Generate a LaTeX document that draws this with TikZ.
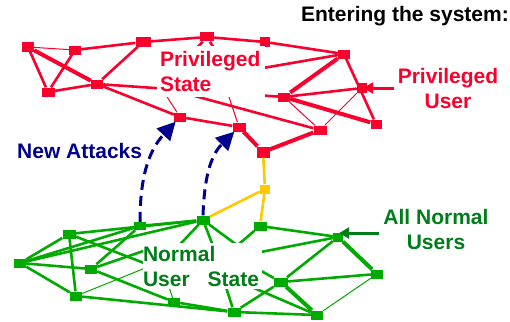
\documentclass[tikz,border=0pt]{standalone}
\usepackage{fontspec}
\setmainfont{Liberation Sans}
\usetikzlibrary{arrows.meta}
\definecolor{hostred}{RGB}{250,0,45}
\definecolor{hostgreen}{RGB}{0,170,0}
\definecolor{textgreen}{RGB}{0,125,25}
\definecolor{attackblue}{RGB}{0,0,140}
\definecolor{pathyellow}{RGB}{255,200,0}

\begin{document}
\begin{tikzpicture}
	[x=1pt,y=1pt,
	 host/.style={rectangle,inner sep=0pt,minimum width=12pt,minimum height=9pt},
	 redhost/.style={host,fill=hostred},
	 greenhost/.style={host,fill=hostgreen},
	 link/.style={line width=2.6pt},
	 thinlink/.style={line width=1pt},
	 thicklink/.style={line width=4pt},
	 attack/.style={attackblue,line width=3pt,dash pattern=on 10pt off 6pt,
	   -{Triangle[length=18pt,width=18pt]}},
	 bigtext/.style={font=\fontsize{21}{25}\selectfont\bfseries,inner sep=0pt}]
	\useasboundingbox (0,0) rectangle (510,-321);

	% privileged hosts
	\node[redhost] (r1) at (28,-47) {};
	\node[redhost] (r2) at (75,-50) {};
	\node[redhost,minimum width=15pt] (r3) at (143,-42) {};
	\node[redhost,minimum width=14pt] (r4) at (207,-37) {};
	\node[redhost,minimum width=10pt] (r5) at (265,-42) {};
	\node[redhost] (r6) at (344,-54) {};
	\node[redhost,minimum width=13pt] (r7) at (48,-92) {};
	\node[redhost] (r8) at (97,-84) {};
	\node[redhost] (r9) at (180,-117) {};
	\node[redhost,minimum width=13pt] (r10) at (239,-127) {};
	\node[redhost,minimum width=13pt,minimum height=11pt] (r11) at (263,-152) {};
	\node[redhost] (r12) at (284,-97) {};
	\node[redhost,minimum width=13pt] (r13) at (320,-130) {};
	\node[redhost,minimum width=10pt,minimum height=10pt] (r14) at (362,-88) {};
	\node[redhost,minimum width=11pt] (r15) at (376,-124) {};

	% hosts hidden behind the state label
	\coordinate (pa) at (185,-61);
	\coordinate (pb) at (222,-61);
	\coordinate (pc) at (245,-65);
	\coordinate (pd) at (162,-89);
	\coordinate (pe) at (225,-85);
	\coordinate (pf) at (240,-72);
	\coordinate (pg) at (180,-92);

	% normal hosts
	\node[greenhost] (g1) at (20,-263) {};
	\node[greenhost,minimum width=13pt] (g2) at (69,-234) {};
	\node[greenhost,minimum height=8pt] (g3) at (140,-226) {};
	\node[greenhost,minimum width=13pt] (g4) at (203,-220) {};
	\node[greenhost] (g5) at (91,-269) {};
	\node[greenhost] (g6) at (76,-296) {};
	\node[greenhost,minimum height=8pt] (g7) at (174,-302) {};
	\node[greenhost,minimum width=13pt] (g8) at (234,-312) {};
	\node[greenhost,minimum width=13pt] (g9) at (260,-226) {};
	\node[greenhost,minimum width=10pt] (g10) at (338,-237) {};
	\node[greenhost,minimum width=14pt] (g11) at (281,-282) {};
	\node[greenhost] (g12) at (377,-274) {};
	\node[greenhost] (g13) at (317,-315) {};
	\node[host,minimum width=10pt,fill=pathyellow] (y1) at (265,-189) {};

	\coordinate (qa) at (158,-246);
	\coordinate (qb) at (175,-275);
	\coordinate (qc) at (175,-256);
	\coordinate (qd) at (170,-255);
	\coordinate (qe) at (215,-251);
	\coordinate (qf) at (245,-251);
	\coordinate (qg) at (225,-256);
	\coordinate (qh) at (235,-257);
	\coordinate (qi) at (245,-262);
	\coordinate (qj) at (240,-282);
	\coordinate (qk) at (166,-278);
	\coordinate (ql) at (223,-278);

	% red links
	\foreach \a/\b in {r1/r7,r2/r3,r2/r7,r7/r8,r3/r8,r3/r4,r4/r5,r5/r6,r8/r9,
	                   r9/r10,r8/r12,r12/r14,r6/r15,r4/pa,r4/pb,r5/pc,pf/r6,pg/r13}
		\draw[link,hostred] (\a) -- (\b);
	\foreach \a/\b in {r1/r2,r12/r13,r13/r14,r9/pd,r10/pe}
		\draw[thinlink,hostred] (\a) -- (\b);
	\foreach \a/\b in {r1/r8,r10/r11,r11/r13,r6/r12,r12/r15}
		\draw[thicklink,hostred] (\a) -- (\b);

	% green links
	\foreach \a/\b in {g1/g2,g1/g3,g1/g4,g1/g5,g1/g6,g2/g6,g2/g4,g3/g4,g3/g5,
	                   g5/g7,g6/g8,g7/g8,g8/g13,g8/g11,g9/g10,g10/g11,g11/g12,
	                   g5/qa,g2/qb,g4/qd,g4/qe,g4/qf,g9/qg,g10/qh,g11/qi,g13/qj,g8/ql}
		\draw[link,hostgreen] (\a) -- (\b);
	\foreach \a/\b in {g12/g13,g6/qc,g7/qk}
		\draw[thinlink,hostgreen] (\a) -- (\b);
	\foreach \a/\b in {g10/g12,g11/g13}
		\draw[thicklink,hostgreen] (\a) -- (\b);

	% the way in
	\foreach \a/\b in {g4/y1,y1/g9,y1/r11}
		\draw[link,pathyellow] (\a) -- (\b);

	% attacks
	\draw[attack] (g3.north) to[out=90,in=227] (r9);
	\draw[attack] (g4.north) to[out=88,in=225] (r10);

	% labels
	\node[bigtext,anchor=base east] (title) at (509,-22) {Entering the system:};
	\node[bigtext,hostred,fill=white,minimum width=108pt,minimum height=51pt,
	      text width=102pt,align=left] (pstate) at (211,-71.5) {Privileged\\State};
	\node[bigtext,hostred,align=center] (puser) at (448,-88) {Privileged\\User};
	\node[bigtext,attackblue,anchor=base west] (attacks) at (17,-158) {New Attacks};
	\node[bigtext,textgreen,align=center] (nusers) at (436,-229.5) {All Normal\\Users};
	\node[bigtext,textgreen,fill=white,minimum width=119pt,minimum height=46pt,
	      text width=119pt,align=left] (nstate) at (202.5,-266)
	      {Normal\\User\hspace{18pt}State};

	% pointers
	\draw[hostred,line width=3pt,-{Triangle[length=10pt,width=11pt]}]
		([xshift=-4pt]puser.west) -- ([xshift=-4pt]puser.west -| r14.east);
	\draw[textgreen,line width=3pt,-{Triangle[length=10pt,width=11pt]}]
		([xshift=-4pt,yshift=-3.5pt]nusers.west) -- ([xshift=-4pt,yshift=-3.5pt]nusers.west -| g10.east);
\end{tikzpicture}
\end{document}
